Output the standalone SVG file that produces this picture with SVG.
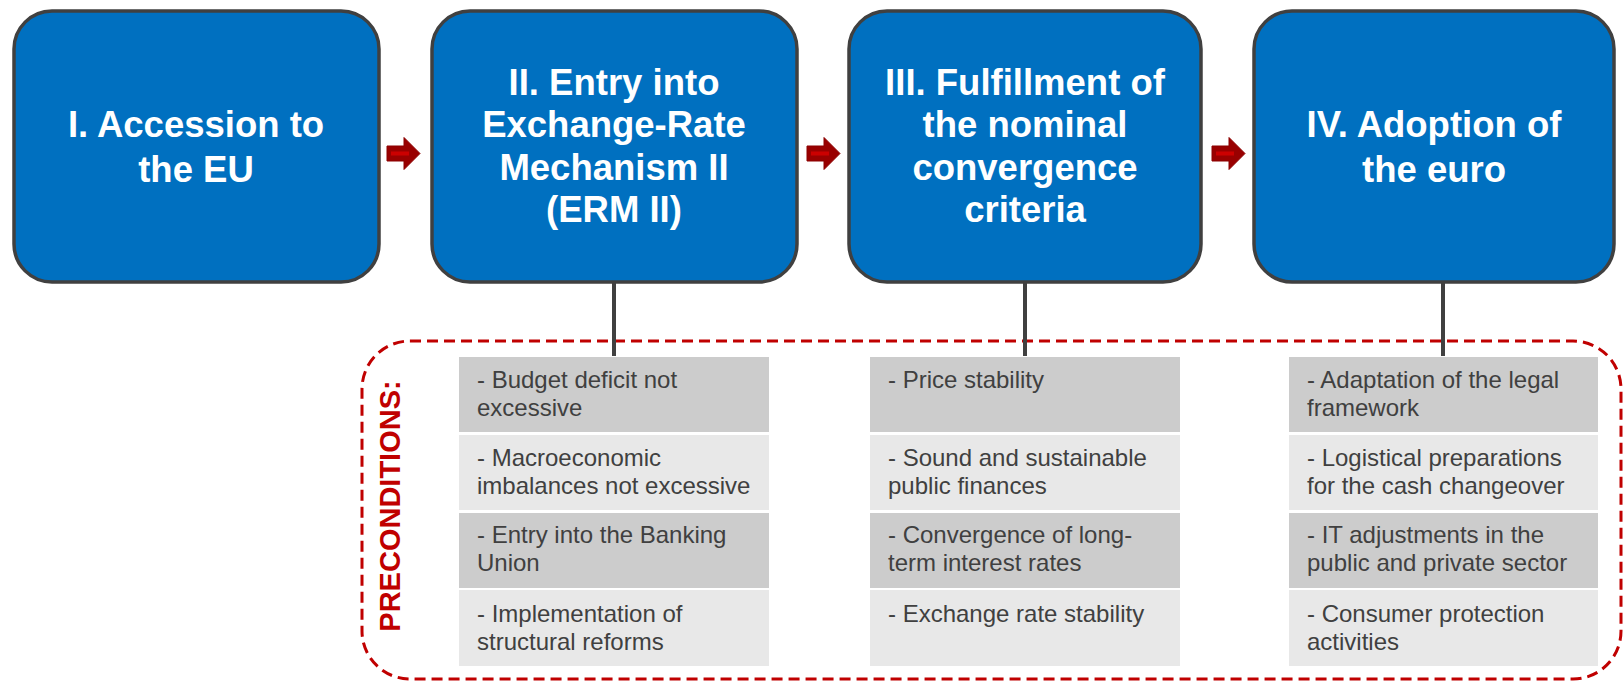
<svg xmlns="http://www.w3.org/2000/svg" width="1624" height="682" viewBox="0 0 1624 682">
<style>
.box{fill:#0070C0;stroke:#404040;stroke-width:3.5}
.title{font-family:"Liberation Sans",Arial,sans-serif;font-weight:bold;font-size:36.5px;fill:#fff;text-anchor:middle}
.item{font-family:"Liberation Sans",Arial,sans-serif;font-size:24px;fill:#404040}
.dk{fill:#CCCCCC}
.lt{fill:#E8E8E8}
.conn{stroke:#404040;stroke-width:4;fill:none}
.arrow{fill:#990000;stroke:#8B0000;stroke-width:1}
.arrowhl{stroke:#CC0000;stroke-width:4}
</style>
<defs>
<g id="arr">
<polygon class="arrow" points="0,-7.5 17,-7.5 17,-16 33,0 17,16 17,7.5 0,7.5"/>
<line class="arrowhl" x1="4" y1="0" x2="22" y2="0"/>
</g>
</defs>
<rect x="362" y="341" width="1259" height="338" rx="48" ry="48" fill="none" stroke="#C00000" stroke-width="3" stroke-dasharray="11 6"/>
<text x="400" y="506" transform="rotate(-90 400 506)" text-anchor="middle" font-family="Liberation Sans, Arial, sans-serif" font-weight="bold" font-size="29" fill="#C00000">PRECONDITIONS:</text>
<g id="connectors">
<line class="conn" x1="614" y1="282" x2="614" y2="356"/>
<line class="conn" x1="1025" y1="282" x2="1025" y2="356"/>
<line class="conn" x1="1443" y1="282" x2="1443" y2="356"/>
<use href="#arr" x="387" y="153.5"/>
<use href="#arr" x="807" y="153.5"/>
<use href="#arr" x="1212" y="153.5"/>
</g>
<g id="node1">
<rect class="box" x="14" y="11" width="365" height="271" rx="38"/>
<text class="title" x="196" y="137">I. Accession to</text>
<text class="title" x="196" y="182">the EU</text>
</g>
<g id="node2">
<rect class="box" x="432" y="11" width="365" height="271" rx="38"/>
<text class="title" x="614" y="95">II. Entry into</text>
<text class="title" x="614" y="137">Exchange-Rate</text>
<text class="title" x="614" y="180">Mechanism II</text>
<text class="title" x="614" y="222">(ERM II)</text>
</g>
<g id="node3">
<rect class="box" x="849" y="11" width="352" height="271" rx="38"/>
<text class="title" x="1025" y="95">III. Fulfillment of</text>
<text class="title" x="1025" y="137">the nominal</text>
<text class="title" x="1025" y="180">convergence</text>
<text class="title" x="1025" y="222">criteria</text>
</g>
<g id="node4">
<rect class="box" x="1254" y="11" width="360" height="271" rx="38"/>
<text class="title" x="1434" y="137">IV. Adoption of</text>
<text class="title" x="1434" y="182">the euro</text>
</g>
<g id="list1">
<rect class="dk" x="459" y="357" width="310" height="75"/>
<rect class="lt" x="459" y="435" width="310" height="75"/>
<rect class="dk" x="459" y="513" width="310" height="75"/>
<rect class="lt" x="459" y="590" width="310" height="76"/>
<text class="item" x="477" y="388">- Budget deficit not</text>
<text class="item" x="477" y="416">excessive</text>
<text class="item" x="477" y="466">- Macroeconomic</text>
<text class="item" x="477" y="494">imbalances not excessive</text>
<text class="item" x="477" y="543">- Entry into the Banking</text>
<text class="item" x="477" y="571">Union</text>
<text class="item" x="477" y="622">- Implementation of</text>
<text class="item" x="477" y="650">structural reforms</text>
</g>
<g id="list2">
<rect class="dk" x="870" y="357" width="310" height="75"/>
<rect class="lt" x="870" y="435" width="310" height="75"/>
<rect class="dk" x="870" y="513" width="310" height="75"/>
<rect class="lt" x="870" y="590" width="310" height="76"/>
<text class="item" x="888" y="388">- Price stability</text>
<text class="item" x="888" y="466">- Sound and sustainable</text>
<text class="item" x="888" y="494">public finances</text>
<text class="item" x="888" y="543">- Convergence of long-</text>
<text class="item" x="888" y="571">term interest rates</text>
<text class="item" x="888" y="622">- Exchange rate stability</text>
</g>
<g id="list3">
<rect class="dk" x="1289" y="357" width="309" height="75"/>
<rect class="lt" x="1289" y="435" width="309" height="75"/>
<rect class="dk" x="1289" y="513" width="309" height="75"/>
<rect class="lt" x="1289" y="590" width="309" height="76"/>
<text class="item" x="1307" y="388">- Adaptation of the legal</text>
<text class="item" x="1307" y="416">framework</text>
<text class="item" x="1307" y="466">- Logistical preparations</text>
<text class="item" x="1307" y="494">for the cash changeover</text>
<text class="item" x="1307" y="543">- IT adjustments in the</text>
<text class="item" x="1307" y="571">public and private sector</text>
<text class="item" x="1307" y="622">- Consumer protection</text>
<text class="item" x="1307" y="650">activities</text>
</g>
</svg>
